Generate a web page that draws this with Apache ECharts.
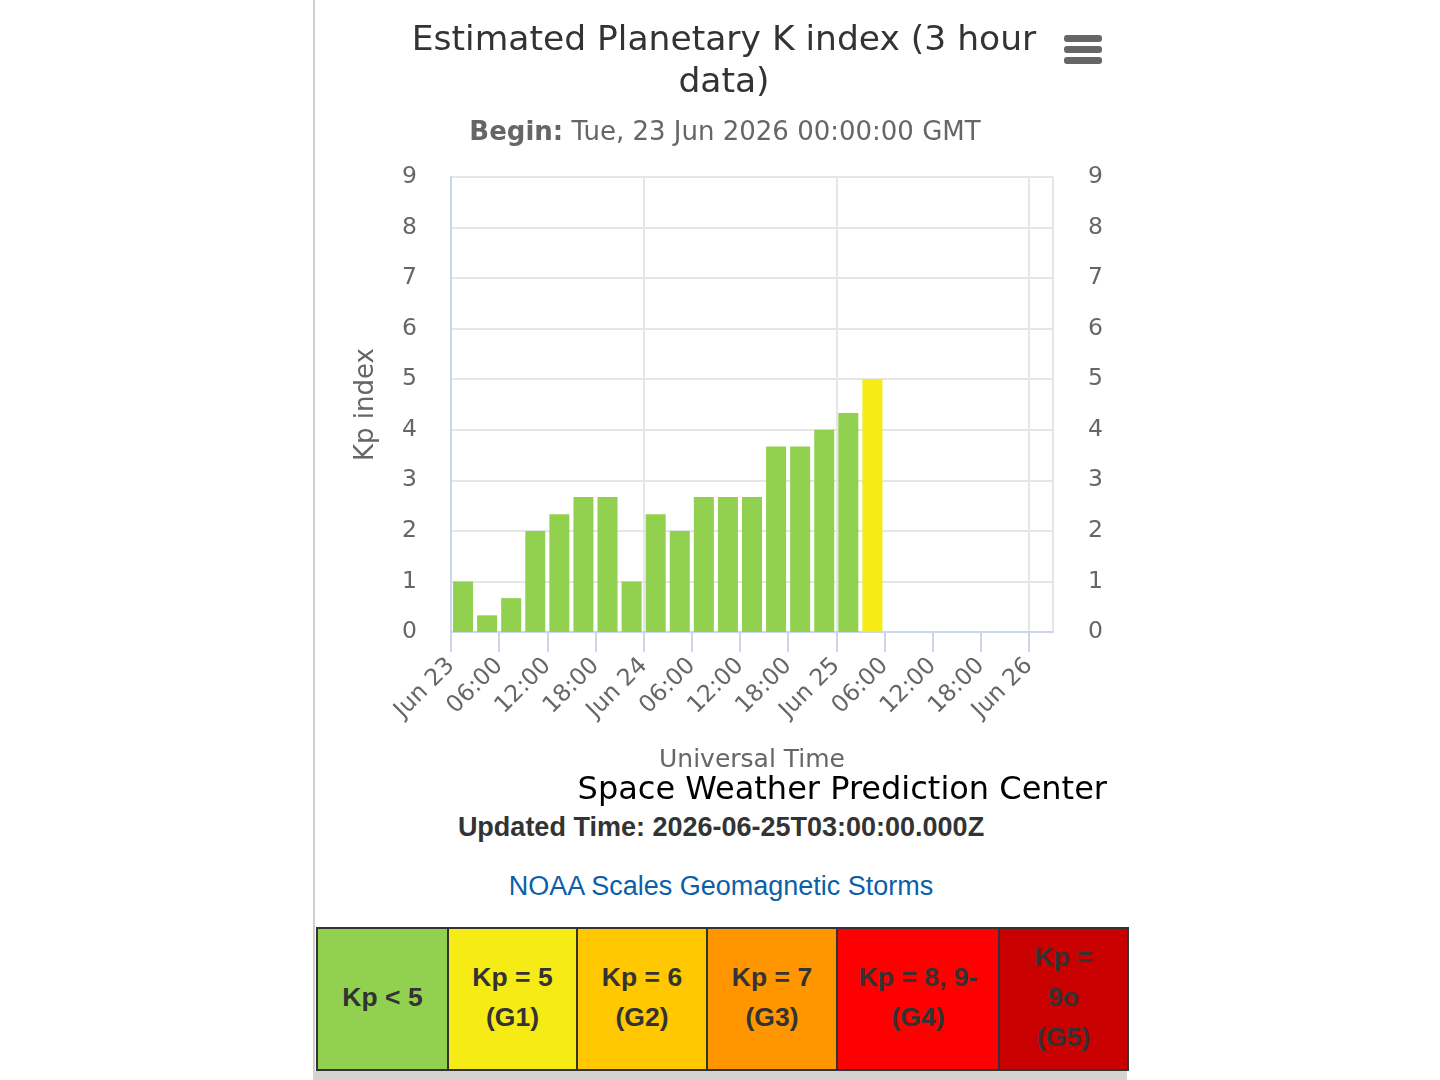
<!DOCTYPE html>
<html>
<head>
<meta charset="utf-8">
<title>Estimated Planetary K index</title>
<script src="https://cdn.jsdelivr.net/npm/echarts@6/dist/echarts.min.js"></script>
<style>
  html, body { margin: 0; padding: 0; background: #fff; width: 1440px; height: 1080px; overflow: hidden; }
  #page { position: absolute; left: 313px; top: 0; width: 814px; height: 1080px; border-left: 2px solid #cfcfcf; box-sizing: border-box; }
  #chart { position: absolute; left: 0; top: 0; width: 812px; height: 810px; }
  .updated { position: absolute; left: 0; width: 812px; top: 812px; text-align: center; font: bold 27px "Liberation Sans", Arial, sans-serif; color: #333; }
  .link { position: absolute; left: 0; width: 812px; top: 871px; text-align: center; font: 27px "Liberation Sans", Arial, sans-serif; color: #0b5fa8; }
  table { position: absolute; left: 1px; top: 927px; width: 809px; height: 144px; border-collapse: collapse; border: 2px solid #333; table-layout: fixed; }
  td { border: 2px solid #333; text-align: center; vertical-align: middle; font: bold 26.5px/40px "Liberation Sans", Arial, sans-serif; color: #333; padding: 0 8px 5px 8px; }
  #strip { position: absolute; left: -2px; top: 1071px; width: 814px; height: 9px; background: #d3d3d3; }
</style>
</head>
<body>
<div id="page">
  <div id="chart"></div>
  <div class="updated" id="updated"></div>
  <div class="link" id="link"></div>
  <table><colgroup id="cols"></colgroup><tr id="scaleRow"></tr></table>
  <div id="strip"></div>
</div>
<script>
// Kp 数据：每 3 小时一个区间的起始时间（UTC）与对应的 Kp 值
const kpStarts = [
  '2026-06-23T00:00:00Z', '2026-06-23T03:00:00Z', '2026-06-23T06:00:00Z', '2026-06-23T09:00:00Z',
  '2026-06-23T12:00:00Z', '2026-06-23T15:00:00Z', '2026-06-23T18:00:00Z', '2026-06-23T21:00:00Z',
  '2026-06-24T00:00:00Z', '2026-06-24T03:00:00Z', '2026-06-24T06:00:00Z', '2026-06-24T09:00:00Z',
  '2026-06-24T12:00:00Z', '2026-06-24T15:00:00Z', '2026-06-24T18:00:00Z', '2026-06-24T21:00:00Z',
  '2026-06-25T00:00:00Z', '2026-06-25T03:00:00Z'
];
const kpValues = [1, 0.33, 0.67, 2, 2.33, 2.67, 2.67, 1, 2.33, 2, 2.67, 2.67, 2.67, 3.67, 3.67, 4, 4.33, 5];

// NOAA 地磁暴等级表（底部色块）
const scaleLabels = ['Kp < 5', 'Kp = 5<br>(G1)', 'Kp = 6<br>(G2)', 'Kp = 7<br>(G3)', 'Kp = 8, 9-<br>(G4)', 'Kp =<br>9o<br>(G5)'];
const scaleColors = ['#92d050', '#f6eb14', '#ffc800', '#ff9600', '#ff0000', '#c80000'];
const scaleWidths = [131, 129, 130, 130, 162, 129];
const scaleMinKp = [0, 5, 6, 7, 8, 9];

const axisStart = '2026-06-23T00:00:00Z';
const axisEnd = '2026-06-26T03:00:00Z';
const titleText = 'Estimated Planetary K index (3 hour\ndata)';
const beginText = 'Tue, 23 Jun 2026 00:00:00 GMT';
const updatedText = 'Updated Time: 2026-06-25T03:00:00.000Z';

const HOUR = 3600 * 1000;
const FONT = '"DejaVu Sans", sans-serif';

// 按 Kp 值选颜色
function kpColor(v) {
  let c = scaleColors[0];
  scaleMinKp.forEach((k, i) => { if (v >= k) c = scaleColors[i]; });
  return c;
}

// 底部表格
const row = document.getElementById('scaleRow');
const cols = document.getElementById('cols');
scaleLabels.forEach((t, i) => {
  const col = document.createElement('col');
  col.style.width = scaleWidths[i] + 'px';
  cols.appendChild(col);
  const td = document.createElement('td');
  td.innerHTML = t;
  td.style.background = scaleColors[i];
  row.appendChild(td);
});
document.getElementById('updated').textContent = updatedText;
document.getElementById('link').textContent = 'NOAA Scales Geomagnetic Storms';

const barData = kpStarts.map((s, i) => ({
  value: [Date.parse(s) + 1.5 * HOUR, kpValues[i]],
  itemStyle: { color: kpColor(kpValues[i]) }
}));

const pad = (n) => String(n).padStart(2, '0');
const months = ['Jan', 'Feb', 'Mar', 'Apr', 'May', 'Jun', 'Jul', 'Aug', 'Sep', 'Oct', 'Nov', 'Dec'];
function timeLabel(v) {
  const d = new Date(v);
  if (d.getUTCHours() === 0) return months[d.getUTCMonth()] + ' ' + d.getUTCDate();
  return pad(d.getUTCHours()) + ':00';
}

const xMin = Date.parse(axisStart);
const xMax = Date.parse(axisEnd);
const gridColor = '#e6e6e6';
const axisBlue = '#ccd6eb';

const chart = echarts.init(document.getElementById('chart'), null, { renderer: 'canvas' });
chart.setOption({
  animation: false,
  textStyle: { fontFamily: FONT },
  title: [
    {
      text: titleText, left: 404, top: 15, textAlign: 'center',
      textStyle: { fontSize: 34.5, fontWeight: 'normal', color: '#333', lineHeight: 42, fontFamily: FONT }
    },
    {
      text: '{b|Begin:} ' + beginText, left: 405, top: 115, textAlign: 'center',
      textStyle: {
        fontSize: 26, fontWeight: 'normal', color: '#666', fontFamily: FONT,
        rich: { b: { fontSize: 26, fontWeight: 'bold', color: '#666', fontFamily: FONT } }
      }
    }
  ],
  grid: { left: 136, right: 74, top: 177, bottom: 178, containLabel: false },
  xAxis: [
    {
      type: 'value', min: xMin, max: xMax, interval: 6 * HOUR,
      name: 'Universal Time', nameLocation: 'middle', nameGap: 116,
      nameTextStyle: { fontSize: 25, color: '#666', fontFamily: FONT },
      axisLine: { show: true, lineStyle: { color: axisBlue, width: 2 } },
      axisTick: { show: true, length: 20, lineStyle: { color: axisBlue, width: 2 } },
      axisLabel: {
        rotate: 45, margin: 30, fontSize: 23.5, color: '#666', fontFamily: FONT,
        showMaxLabel: false, formatter: timeLabel
      },
      splitLine: { show: false }
    },
    {
      type: 'value', min: xMin, max: xMax, interval: 24 * HOUR, position: 'bottom',
      axisLine: { show: false }, axisTick: { show: false }, axisLabel: { show: false },
      splitLine: { show: true, lineStyle: { color: gridColor, width: 2 } }
    }
  ],
  yAxis: [
    {
      type: 'value', min: 0, max: 9, interval: 1,
      name: 'Kp index', nameLocation: 'middle', nameGap: 72, nameRotate: 90,
      nameTextStyle: { fontSize: 26, color: '#666', fontFamily: FONT },
      axisLine: { show: true, lineStyle: { color: axisBlue, width: 2 } },
      axisTick: { show: false },
      axisLabel: { margin: 34, fontSize: 23.5, color: '#666', fontFamily: FONT },
      splitLine: { show: true, lineStyle: { color: gridColor, width: 2 } }
    },
    {
      type: 'value', min: 0, max: 9, interval: 1, position: 'right',
      axisLine: { show: false }, axisTick: { show: false },
      axisLabel: { margin: 35, fontSize: 23.5, color: '#666', fontFamily: FONT },
      splitLine: { show: false }
    }
  ],
  series: [
    {
      type: 'bar', xAxisIndex: 0, yAxisIndex: 0, barWidth: 20,
      data: barData, z: 3
    }
  ],
  graphic: [
    // 右上角菜单图标
    { type: 'rect', left: 749, top: 35, shape: { width: 38, height: 7, r: 3 }, style: { fill: '#666' } },
    { type: 'rect', left: 749, top: 46, shape: { width: 38, height: 7, r: 3 }, style: { fill: '#666' } },
    { type: 'rect', left: 749, top: 57, shape: { width: 38, height: 7, r: 3 }, style: { fill: '#666' } },
    // 版权文字
    {
      type: 'text', right: 20, top: 775,
      style: { text: 'Space Weather Prediction Center', fontSize: 32, fill: '#000', fontFamily: FONT }
    }
  ]
});
</script>
</body>
</html>
